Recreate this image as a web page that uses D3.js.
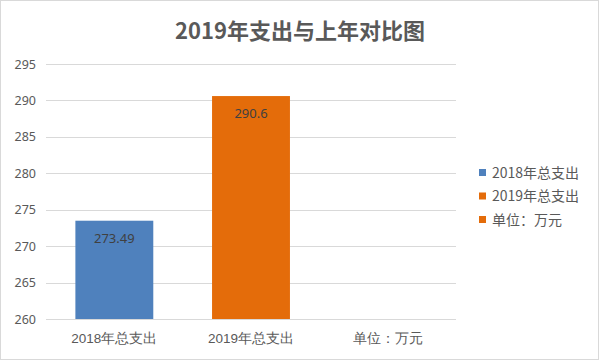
<!DOCTYPE html>
<html><head><meta charset="utf-8">
<script src="https://cdn.jsdelivr.net/npm/d3@7"></script>
<style>
html,body{margin:0;padding:0;background:#fff;}
svg{display:block;font-family:"Noto Sans CJK SC","Noto Sans",sans-serif;}
</style></head>
<body>
<script>
const title = "2019年支出与上年对比图";
const categories = ["2018年总支出", "2019年总支出", "单位：万元"];
const values = [273.49, 290.6, null];
const colors = ["#4f81bd", "#e46c0a", "#e46c0a"];
const legendLabels = ["2018年总支出", "2019年总支出", "单位：万元"];
const yTicks = [260, 265, 270, 275, 280, 285, 290, 295];

const W = 600, H = 361;
const svg = d3.select("body").append("svg").attr("width", W).attr("height", H);
svg.append("rect").attr("x",0.5).attr("y",0.5).attr("width",W-2).attr("height",H-2)
  .attr("fill","#fff").attr("stroke","#d9d9d9");

const x = d3.scaleBand().domain(categories).range([46, 456]).paddingInner(0.43).paddingOuter(0.215);
const y = d3.scaleLinear().domain([260, 295]).range([319, 64]);

// gridlines
svg.append("g").selectAll("line").data(yTicks).join("line")
  .attr("x1", 46).attr("x2", 456)
  .attr("y1", d => Math.round(y(d)) + 0.5).attr("y2", d => Math.round(y(d)) + 0.5)
  .attr("stroke", "#d9d9d9").attr("stroke-width", 1);

// y axis labels
const yAxis = d3.axisLeft(y).tickValues(yTicks).tickSize(0).tickPadding(0);
const gy = svg.append("g").attr("transform", "translate(36,0)").call(yAxis);
gy.select(".domain").remove();
gy.selectAll("text").attr("fill", "#595959").style("font-size", "12.5px")
  .style("font-family", "'Noto Sans','Noto Sans CJK SC',sans-serif");

// bars
const data = categories.map((c, i) => ({c, v: values[i], col: colors[i]})).filter(d => d.v != null);
svg.append("g").selectAll("rect").data(data).join("rect")
  .attr("x", d => x(d.c)).attr("width", x.bandwidth())
  .attr("y", d => y(d.v)).attr("height", d => y(260) - y(d.v))
  .attr("fill", d => d.col);

// data labels
svg.append("g").selectAll("text").data(data).join("text")
  .attr("x", d => x(d.c) + x.bandwidth()/2).attr("y", d => y(d.v) + 22)
  .attr("text-anchor", "middle").attr("fill", "#404040").style("font-size", "13px")
  .style("font-family", "'Noto Sans','Noto Sans CJK SC',sans-serif")
  .text(d => d.v);

// x axis
const xAxis = d3.axisBottom(x).tickSize(0).tickPadding(0);
const gx = svg.append("g").attr("transform", "translate(0,319)").call(xAxis);
gx.select(".domain").remove();
gx.selectAll("text").attr("fill", "#595959").attr("dy", "0").attr("y", 24).style("font-size", "13.5px");

// title
svg.append("text").attr("x", 300).attr("y", 39).attr("text-anchor", "middle")
  .attr("fill", "#595959").style("font-size", "22px").style("font-weight", "bold")
  .text(title);

// legend
const lg = svg.append("g").selectAll("g").data(legendLabels).join("g")
  .attr("transform", (d, i) => `translate(479,${173 + i * 23.5})`);
lg.append("rect").attr("x", 0).attr("y", -4).attr("width", 7).attr("height", 7)
  .attr("fill", (d, i) => colors[i]);
lg.append("text").attr("x", 13).attr("y", 0).attr("dy", "0.35em")
  .attr("fill", "#595959").style("font-size", "14px").text(d => d);
</script>
</body></html>
